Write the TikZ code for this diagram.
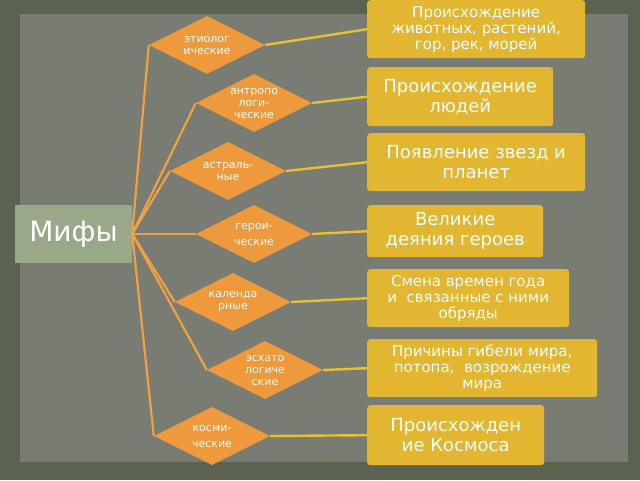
\documentclass[tikz,border=0pt]{standalone}
\usepackage{fontspec}
\setmainfont{DejaVu Sans}
\usetikzlibrary{shapes.geometric}
\definecolor{outerbg}{HTML}{5B6350}
\definecolor{panelbg}{HTML}{787C72}
\definecolor{mythbox}{HTML}{9AA88A}
\definecolor{kindfill}{HTML}{EE9A3C}
\definecolor{kindline}{HTML}{F0A040}
\definecolor{topicfill}{HTML}{E2B630}
\definecolor{topicline}{HTML}{E8C030}
\begin{document}
\begin{tikzpicture}
[ x=1pt, y=-1pt
, kind/.style={diamond, aspect=2, fill=kindfill, text=white, inner sep=0pt,
    minimum width=116pt, minimum height=58pt, font=\fontsize{11}{12}\selectfont, align=center}
, topic/.style={rectangle, rounded corners=3pt, fill=topicfill, text=white,
    anchor=north west, font=\fontsize{15}{16}\selectfont, align=center, inner sep=2pt}
, hubline/.style={kindline, line width=2.2pt}
, topicwire/.style={topicline, line width=2.4pt}
]
% background
\fill[outerbg] (0,0) rectangle (640,480);
\fill[panelbg] (20,14) rectangle (628,462);
% root
\node (myths) [fill=mythbox, text=white, minimum width=117pt, minimum height=58pt,
  font=\fontsize{28}{30}\selectfont] at (73.5,234) {Мифы};
% kinds of myths
\node (etio) [kind] at (207,45) {этиолог\\ические};
\node (anthro) [kind] at (254,103) {антропо\\логи-\\ческие};
\node (astral) [kind] at (228,171) {астраль-\\ные};
\node (hero) [kind] at (254,234) {герои-\\[4pt]ческие};
\node (calend) [kind] at (233,302) {календа\\рные};
\node (eschat) [kind] at (265,370) {эсхато\\логиче\\ские};
\node (cosmic) [kind] at (212,436) {косми-\\[4pt]ческие};
% topics
\node (tEtio) [topic, minimum width=218pt, minimum height=58pt] at (367,0)
  {Происхождение\\животных, растений,\\гор, рек, морей};
\node (tAnthro) [topic, minimum width=186pt, minimum height=59pt, font=\fontsize{18}{20}\selectfont] at (367,67)
  {Происхождение\\людей};
\node (tAstral) [topic, minimum width=218pt, minimum height=58pt, font=\fontsize{18}{20}\selectfont] at (367,133)
  {Появление звезд и\\планет};
\node (tHero) [topic, minimum width=176pt, minimum height=52pt, font=\fontsize{18}{20}\selectfont] at (367,205)
  {Великие\\деяния героев};
\node (tCalend) [topic, minimum width=202pt, minimum height=58pt] at (367,269)
  {Смена времен года\\и\ \ связанные с ними\\обряды};
\node (tEschat) [topic, minimum width=230pt, minimum height=58pt] at (367,339)
  {Причины гибели мира,\\потопа,\ \ возрождение\\мира};
\node (tCosmic) [topic, minimum width=177pt, minimum height=60pt, font=\fontsize{18}{20}\selectfont] at (367,405)
  {Происхожден\\ие Космоса};
% wires
\foreach \k in {etio, anthro, astral, hero, calend, eschat, cosmic}
  \draw[hubline] (myths.east) -- (\k.west);
\draw[topicwire] (etio.east) -- (tEtio.west);
\draw[topicwire] (anthro.east) -- (tAnthro.west);
\draw[topicwire] (astral.east) -- (tAstral.west);
\draw[topicwire] (hero.east) -- (tHero.west);
\draw[topicwire] (calend.east) -- (tCalend.west);
\draw[topicwire] (eschat.east) -- (tEschat.west);
\draw[topicwire] (cosmic.east) -- (tCosmic.west);
\end{tikzpicture}
\end{document}
